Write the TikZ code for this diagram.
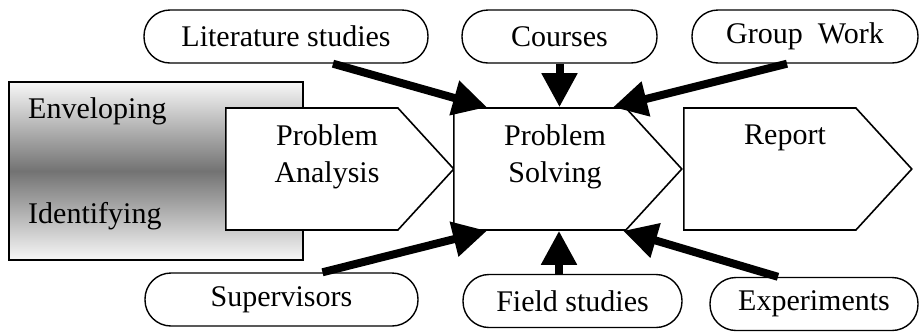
\documentclass[tikz,border=0pt]{standalone}
\usepackage{fontspec}
\setmainfont{Liberation Serif}
\usetikzlibrary{arrows.meta,positioning,shapes.symbols}

\begin{document}
\begin{tikzpicture}[
  x=1pt,y=-1pt,
  font=\fontsize{30}{37}\selectfont,
  envbox/.style={draw,line width=1.2pt,minimum width=294pt,minimum height=178pt,top color=gray!6,bottom color=gray!6,middle color=black!55},
  stage/.style={draw,line width=1.6pt,fill=white,signal,signal to=east,signal pointer angle=95,minimum width=228pt,minimum height=122pt,inner sep=0pt},
  source/.style={draw,line width=1.4pt,rounded corners=26pt,minimum height=53pt,inner sep=0pt},
  lbl/.style={align=center,inner sep=0pt},
  feed/.style={-{Triangle[length=34pt,width=34pt]},line width=8pt}
]
\useasboundingbox (0,0) rectangle (922,333);
% left block
\node[envbox] (env) at (156,171) {};
\node[lbl,anchor=west] (env-top) at (28,111) {Enveloping};
\node[lbl,anchor=west] (env-bot) at (28,216) {Identifying};
% stages
\node[stage,anchor=west] (pa) at (225,169) {};
\node[stage,anchor=west] (ps) at (453,169) {};
\node[stage,anchor=west] (rep) at (683,169) {};
\node[lbl] (pa-txt) at (327,157) {Problem\\Analysis};
\node[lbl] (ps-txt) at (555,157) {Problem\\Solving};
\node[lbl] (rep-txt) at (785,138) {Report};
% sources
\node[source,minimum width=284pt] (lit) at (286,36.5) {Literature studies};
\node[source,minimum width=195pt] (crs) at (559.5,36.5) {Courses};
\node[source,minimum width=226pt] (grp) at (805,36.5) {Group~ Work};
\node[source,minimum width=273pt] (sup) at (281.5,299.5) {Supervisors};
\node[source,minimum width=219pt] (fld) at (572.5,301) {Field studies};
\node[source,minimum width=208pt] (exp) at (814,304) {Experiments};
% inputs to problem solving
\draw[feed] ([xshift=47pt]lit.south) -- ([xshift=34pt]ps.north west);
\draw[feed] (crs.south) -- (crs.south |- ps.north);
\draw[feed] ([xshift=-18pt]grp.south) -- ([xshift=160pt]ps.north west);
\draw[feed] ([xshift=41pt]sup.north) -- ([xshift=34pt]ps.south west);
\draw[feed] ([xshift=-13.5pt]fld.north) -- ([xshift=-13.5pt]fld.north |- ps.south);
\draw[feed] ([xshift=-36pt]exp.north) -- ([xshift=170pt]ps.south west);
\end{tikzpicture}
\end{document}
